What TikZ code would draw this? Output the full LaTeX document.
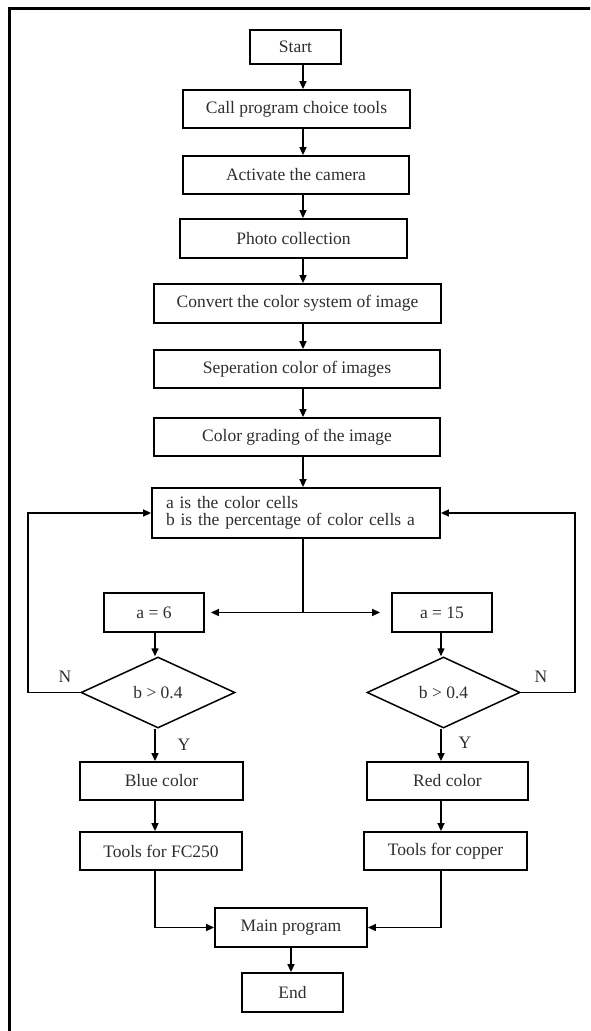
\documentclass[tikz,border=0pt]{standalone}
\usepackage{fontspec}
\setmainfont{Liberation Serif}
\usetikzlibrary{shapes.geometric,arrows.meta}

\definecolor{inkgray}{gray}{0.18}

\tikzset{
    box/.style={draw, line width=1.8pt, minimum height=38pt, inner sep=0pt, text=inkgray},
    choice/.style={draw, diamond, line width=1.5pt, minimum width=154pt, minimum height=71pt, inner sep=0pt, text=inkgray},
    flow/.style={->, line width=1.5pt},
    answer/.style={text=inkgray, inner sep=0pt}
}

\begin{document}
\begin{tikzpicture}[x=1pt, y=-1pt, >={Triangle[length=8pt,width=7pt]}, font=\fontsize{17.5}{17}\selectfont]
        \useasboundingbox (0,0) rectangle (590,1031);
        \clip (0,0) rectangle (590,1031);

        %% cadre
        \draw [line width=3pt] (9,1040) -- (9,8.5) -- (600,8.5);

        %% colonne principale
        \coordinate (axis) at (303,0);
        \node [box, minimum width=91pt, minimum height=34pt] (start) at (295.5,47) {Start};
        \node [box, minimum width=227pt] (call) at (296.5,109) {Call program choice tools};
        \node [box, minimum width=226pt] (camera) at (296,175) {Activate the camera};
        \node [box, minimum width=227pt, minimum height=39pt] (photo) at (293.5,238.5) {Photo collection};
        \node [box, minimum width=287pt, minimum height=39pt] (convert) at (297.5,303.5) {Convert the color system of image};
        \node [box, minimum width=286pt] (seperation) at (297,369) {Seperation color of images};
        \node [box, minimum width=286pt] (grading) at (297,437) {Color grading of the image};
        \node [box, minimum width=288pt, minimum height=50pt, text width=260pt, align=left] (cells) at (296,513) {a is the color cells\\b is the percentage of color cells a};

        \draw [flow] (start.south -| axis) -- (call.north -| axis);
        \draw [flow] (call.south -| axis) -- (camera.north -| axis);
        \draw [flow] (camera.south -| axis) -- (photo.north -| axis);
        \draw [flow] (photo.south -| axis) -- (convert.north -| axis);
        \draw [flow] (convert.south -| axis) -- (seperation.north -| axis);
        \draw [flow] (seperation.south -| axis) -- (grading.north -| axis);
        \draw [flow] (grading.south -| axis) -- (cells.north -| axis);

        %% branche gauche : a = 6
        \coordinate (laxis) at (155,0);
        \coordinate (lloop) at (28,0);
        \node [box, minimum width=100pt, minimum height=39pt] (a6) at (154,612.5) {a = 6};
        \node [choice] (dl) at (158,692.5) {b > 0.4};
        \node [box, minimum width=163pt] (blue) at (161.5,781) {Blue color};
        \node [box, minimum width=162pt] (fc250) at (161,851) {Tools for FC250};
        \node [answer] (nl) at (65,677) {N};
        \node [answer] (yl) at (184,745) {Y};

        %% branche droite : a = 15
        \coordinate (raxis) at (441,0);
        \coordinate (rloop) at (575,0);
        \node [box, minimum width=100pt, minimum height=39pt] (a15) at (442,612.5) {a = 15};
        \node [choice, minimum width=153pt] (dr) at (443.5,692.5) {b > 0.4};
        \node [box, minimum width=161pt] (red) at (447.5,781) {Red color};
        \node [box, minimum width=163pt] (copper) at (445.5,851) {Tools for copper};
        \node [answer] (nr) at (541,677) {N};
        \node [answer] (yr) at (465,743) {Y};

        %% fin
        \node [box, minimum width=152pt, minimum height=39pt] (main) at (291,927.5) {Main program};
        \node [box, minimum width=101pt, minimum height=39pt] (end) at (292.5,992.5) {End};

        %% aiguillage
        \coordinate (fork) at (axis |- a6.east);
        \draw [line width=1.5pt] (cells.south -| axis) -- (fork);
        \draw [flow, shorten >=6pt] (fork) -- (a6.east);
        \draw [flow, shorten >=11pt] (fork) -- (a15.west);

        \draw [flow] (a6.south -| laxis) -- (dl.north -| laxis);
        \draw [flow] (dl.south -| laxis) -- (blue.north -| laxis);
        \draw [flow] (blue.south -| laxis) -- (fc250.north -| laxis);
        \draw [flow] (a15.south -| raxis) -- (dr.north -| raxis);
        \draw [flow] (dr.south -| raxis) -- (red.north -| raxis);
        \draw [flow] (red.south -| raxis) -- (copper.north -| raxis);

        %% boucles N
        \draw [flow] (dl.west) -| (lloop |- cells.west) -- (cells.west);
        \draw [flow] (dr.east) -| (rloop |- cells.east) -- (cells.east);

        %% retour au programme principal
        \draw [flow] (fc250.south -| laxis) |- (main.west);
        \draw [flow] (copper.south -| raxis) |- (main.east);
        \draw [flow] (main.south) -- (main.south |- end.north);

    \end{tikzpicture}
\end{document}
